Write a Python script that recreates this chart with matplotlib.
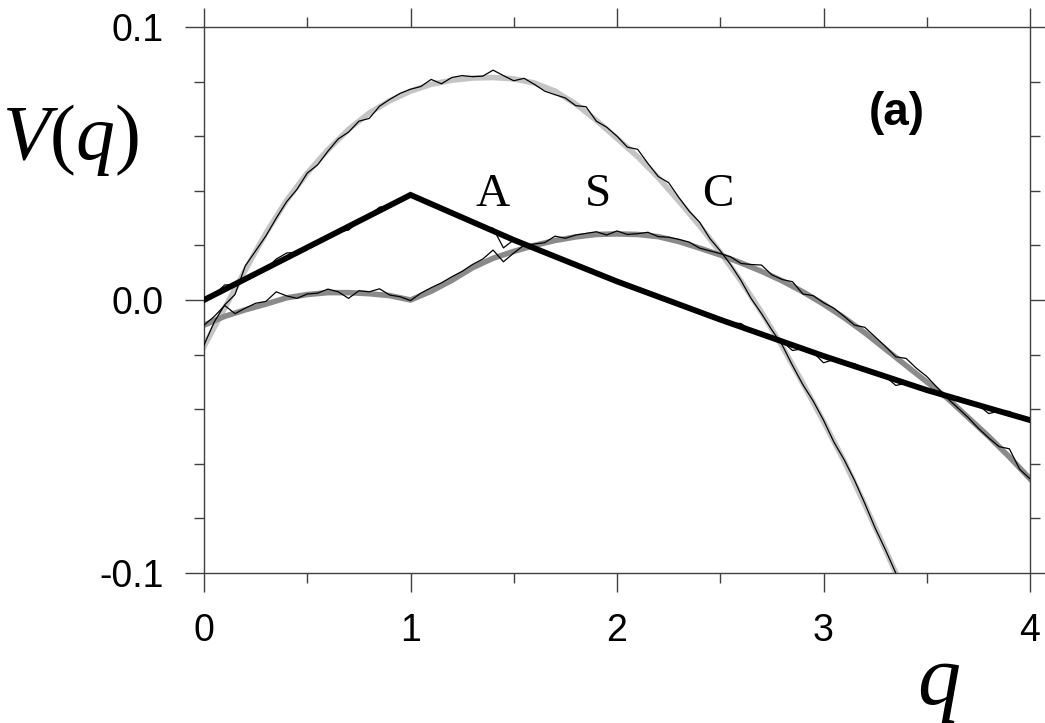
import numpy as np
import matplotlib
matplotlib.use('Agg')
import matplotlib.pyplot as plt
from matplotlib.ticker import MultipleLocator

plt.rcParams['font.family'] = ['Liberation Sans', 'DejaVu Sans']
plt.rcParams['mathtext.fontset'] = 'custom'
plt.rcParams['mathtext.rm'] = 'Liberation Serif'
plt.rcParams['mathtext.it'] = 'Liberation Serif:italic'

# smooth curves (thick)
q_a = [0.0, 1.0, 1.5, 2.0, 2.5, 3.0, 3.5, 4.0]
v_a = [0.0, 0.0385, 0.0220, 0.0068, -0.0072, -0.0205, -0.0330, -0.0440]

q_s = np.round(np.arange(0, 4.001, 0.1), 2)
v_s = [-0.0092, -0.0060, -0.0036, -0.0015, 0.0008, 0.0020, 0.0027, 0.0027, 0.0023, 0.0016,
       0.0000, 0.0032, 0.0072, 0.0118, 0.0153, 0.0178, 0.0200, 0.0218, 0.0231, 0.0240,
       0.0242, 0.0240, 0.0232, 0.0214, 0.0190, 0.0165, 0.0136, 0.0105, 0.0070, 0.0030,
       -0.0015, -0.0065, -0.0120, -0.0180, -0.0240, -0.0300, -0.0360, -0.0430, -0.0500, -0.0575,
       -0.0655]

q_c = list(np.round(np.arange(0, 3.301, 0.1), 2)) + [3.35]
v_c = [-0.0170, -0.0030, 0.0110, 0.0245, 0.0365, 0.0465, 0.0550, 0.0625, 0.0685, 0.0730,
       0.0765, 0.0790, 0.0805, 0.0813, 0.0815, 0.0810, 0.0795, 0.0765, 0.0718, 0.0658,
       0.0592, 0.0525, 0.0448, 0.0362, 0.0272, 0.0175, 0.0070, -0.0045, -0.0170, -0.0305,
       -0.0445, -0.0590, -0.0750, -0.0915, -0.1000]

# noisy data (thin)
q_n = np.round(np.arange(0, 4.001, 0.05), 2)
n_a = [0.0000, 0.0020, 0.0055, 0.0057, 0.0077, 0.0096, 0.0115, 0.0150, 0.0172, 0.0175,
       0.0192, 0.0212, 0.0231, 0.0250, 0.0256, 0.0289, 0.0308, 0.0340, 0.0346, 0.0366,
       0.0385, 0.0368, 0.0352, 0.0336, 0.0319, 0.0302, 0.0290, 0.0270, 0.0263, 0.0191,
       0.0220, 0.0205, 0.0190, 0.0174, 0.0159, 0.0144, 0.0137, 0.0114, 0.0098, 0.0083,
       0.0068, 0.0058, 0.0040, 0.0026, 0.0012, -0.0002, -0.0016, -0.0030, -0.0044, -0.0058,
       -0.0072, -0.0085, -0.0086, -0.0112, -0.0125, -0.0138, -0.0152, -0.0185, -0.0178, -0.0192,
       -0.0230, -0.0218, -0.0230, -0.0233, -0.0255, -0.0268, -0.0280, -0.0313, -0.0305, -0.0318,
       -0.0330, -0.0341, -0.0352, -0.0355, -0.0374, -0.0385, -0.0416, -0.0407, -0.0408, -0.0429,
       -0.0440]
n_s = [-0.0092, -0.0060, -0.0020, -0.0050, -0.0030, -0.0012, -0.0005, 0.0030, 0.0015, 0.0006,
       0.0022, 0.0025, 0.0040, 0.0030, 0.0006, 0.0034, 0.0030, 0.0041, 0.0018, 0.0012,
       -0.0002, 0.0025, 0.0045, 0.0063, 0.0085, 0.0105, 0.0130, 0.0150, 0.0183, 0.0140,
       0.0172, 0.0201, 0.0205, 0.0210, 0.0234, 0.0226, 0.0238, 0.0244, 0.0250, 0.0238,
       0.0253, 0.0240, 0.0243, 0.0248, 0.0232, 0.0230, 0.0222, 0.0212, 0.0190, 0.0180,
       0.0170, 0.0158, 0.0134, 0.0130, 0.0128, 0.0092, 0.0075, 0.0067, 0.0022, 0.0016,
       -0.0010, -0.0030, -0.0060, -0.0092, -0.0100, -0.0135, -0.0170, -0.0208, -0.0214, -0.0250,
       -0.0280, -0.0320, -0.0360, -0.0395, -0.0430, -0.0470, -0.0505, -0.0537, -0.0545, -0.0620,
       -0.0655]
n_c = [-0.0165, -0.0080, -0.0018, 0.0020, 0.0125, 0.0180, 0.0235, 0.0300, 0.0360, 0.0405,
       0.0465, 0.0495, 0.0545, 0.0590, 0.0615, 0.0655, 0.0665, 0.0710, 0.0735, 0.0757,
       0.0772, 0.0782, 0.0808, 0.0792, 0.0815, 0.0822, 0.0818, 0.0820, 0.0842, 0.0822,
       0.0803, 0.0812, 0.0790, 0.0765, 0.0752, 0.0740, 0.0712, 0.0708, 0.0655, 0.0633,
       0.0600, 0.0560, 0.0552, 0.0500, 0.0452, 0.0430, 0.0375, 0.0325, 0.0285, 0.0225,
       0.0180, 0.0130, 0.0072, 0.0005, -0.0050, -0.0110, -0.0165, -0.0240, -0.0310, -0.0370,
       -0.0440, -0.0520, -0.0585, -0.0660, -0.0745, -0.0835, -0.0915, -0.1000]

fig = plt.figure(figsize=(10.45, 7.23), dpi=100)
ax = fig.add_axes([204 / 1045, 1 - 573 / 723, 826 / 1045, 546 / 723])

ax.plot(q_c, v_c, color='#c4c4c4', lw=4.0, zorder=2)
ax.plot(q_s, v_s, color='#8a8a8a', lw=4.0, zorder=2)
ax.plot(q_n[:len(n_c)], n_c, color='black', lw=0.9, zorder=3)
ax.plot(q_n, n_s, color='black', lw=0.9, zorder=3)
ax.plot(q_n, n_a, color='black', lw=0.9, zorder=3)
ax.plot(q_a, v_a, color='black', lw=4.2, zorder=4, solid_joinstyle='miter')

ax.set_xlim(0, 4)
ax.set_ylim(-0.1, 0.1)
ax.xaxis.set_major_locator(MultipleLocator(1))
ax.xaxis.set_minor_locator(MultipleLocator(0.5))
ax.yaxis.set_minor_locator(MultipleLocator(0.02))
ax.set_yticks([-0.1, 0.0, 0.1])
ax.set_yticklabels(['-0.1', '0.0', '0.1'])

ax.tick_params(which='both', direction='out', top=True, right=True,
               color='#404040', width=1.0, labelsize=27, pad=15)
ax.tick_params(which='major', length=14)
ax.tick_params(which='minor', length=7)
for sp in ax.spines.values():
    sp.set_color('#404040')
    sp.set_linewidth(1.0)

# labels
ax.text(-0.162, 0.793, r'$V(q)$', transform=ax.transAxes, fontsize=56,
        ha='center', va='center')
ax.text(0.889, -0.205, r'$q$', transform=ax.transAxes, fontsize=62,
        ha='center', va='center')
for lab, xp in [('A', 1.40), ('S', 1.91), ('C', 2.49)]:
    ax.text(xp, 0.0385, lab, fontsize=34, family='Liberation Serif',
            ha='center', va='center')
ax.text(3.356, 0.0685, '(a)', fontsize=33, fontweight='bold',
        ha='center', va='center')

fig.savefig('out.png', dpi=100)
